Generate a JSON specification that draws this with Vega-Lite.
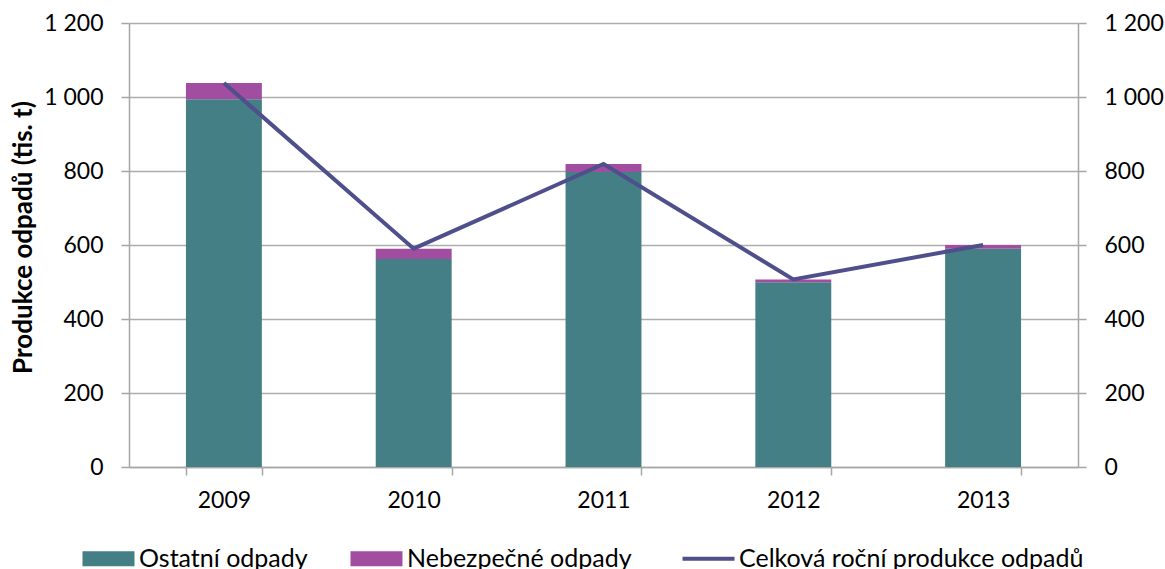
{
  "$schema": "https://vega.github.io/schema/vega-lite/v6.json",
  "width": 949,
  "height": 444,
  "autosize": {"type": "none"},
  "padding": {"left": 129, "top": 23, "right": 87, "bottom": 102},
  "background": "white",
  "config": {
    "view": {"stroke": null},
    "font": "Lato",
    "axis": {"labelFont": "Lato", "labelFontSize": 23, "labelColor": "#000000", "domainColor": "#A6A6A6", "tickColor": "#A6A6A6", "gridColor": "#ADADAD", "domainWidth": 1.5, "tickWidth": 1.5, "gridWidth": 1.5, "tickSize": 8},
    "legend": {"labelFont": "Lato", "labelFontSize": 25, "labelColor": "#000000", "labelLimit": 500}
  },
  "datasets": {
    "slozky": [
      {"rok": "2009", "druh": "Ostatní odpady", "hodnota": 994},
      {"rok": "2009", "druh": "Nebezpečné odpady", "hodnota": 44},
      {"rok": "2010", "druh": "Ostatní odpady", "hodnota": 562},
      {"rok": "2010", "druh": "Nebezpečné odpady", "hodnota": 28},
      {"rok": "2011", "druh": "Ostatní odpady", "hodnota": 797},
      {"rok": "2011", "druh": "Nebezpečné odpady", "hodnota": 22},
      {"rok": "2012", "druh": "Ostatní odpady", "hodnota": 499},
      {"rok": "2012", "druh": "Nebezpečné odpady", "hodnota": 8},
      {"rok": "2013", "druh": "Ostatní odpady", "hodnota": 590},
      {"rok": "2013", "druh": "Nebezpečné odpady", "hodnota": 10}
    ],
    "celkem": [
      {"rok": "2009", "druh": "Celková roční produkce odpadů", "hodnota": 1038},
      {"rok": "2010", "druh": "Celková roční produkce odpadů", "hodnota": 590},
      {"rok": "2011", "druh": "Celková roční produkce odpadů", "hodnota": 819},
      {"rok": "2012", "druh": "Celková roční produkce odpadů", "hodnota": 507},
      {"rok": "2013", "druh": "Celková roční produkce odpadů", "hodnota": 600}
    ]
  },
  "encoding": {
    "x": {
      "field": "rok", "type": "nominal",
      "scale": {"paddingInner": 0.6, "paddingOuter": 0.3},
      "axis": {"title": null, "labelAngle": 0, "tickBand": "extent", "labelPadding": 14, "grid": false}
    }
  },
  "layer": [
    {
      "data": {"name": "slozky"},
      "mark": {"type": "bar"},
      "encoding": {
        "y": {
          "field": "hodnota", "type": "quantitative", "stack": "zero",
          "scale": {"domain": [0, 1200], "nice": false},
          "axis": {
            "values": [0, 200, 400, 600, 800, 1000, 1200],
            "labelExpr": "replace(format(datum.value, ','), ',', ' ')",
            "labelPadding": 18,
            "grid": true,
            "title": "Produkce odpadů (tis. t)",
            "titleFont": "Lato", "titleFontSize": 26, "titleFontWeight": "bold", "titleColor": "#000000",
            "titleX": -106, "titleY": 214, "titleAngle": -90, "titleBaseline": "middle", "titleAlign": "center"
          }
        },
        "color": {
          "field": "druh", "type": "nominal",
          "scale": {
            "domain": ["Ostatní odpady", "Nebezpečné odpady", "Celková roční produkce odpadů"],
            "range": ["#437F84", "#A14DA0", "#4F4F8B"]
          },
          "legend": {
            "title": null,
            "orient": "none",
            "legendX": -33,
            "legendY": 523,
            "direction": "horizontal",
            "columns": 3,
            "columnPadding": 42,
            "symbolSize": 2704,
            "labelOffset": 18,
            "encode": {
              "symbols": {
                "update": {
                  "size": {"value": 2704},
                  "shape": {"signal": "datum.value === 'Celková roční produkce odpadů' ? 'M-1,0H1' : 'M-1,-0.29H1V0.29H-1Z'"},
                  "fill": {"signal": "datum.value === 'Celková roční produkce odpadů' ? 'transparent' : scale('color', datum.value)"},
                  "stroke": {"signal": "scale('color', datum.value)"},
                  "strokeWidth": {"signal": "datum.value === 'Celková roční produkce odpadů' ? 4 : 0"},
                  "opacity": {"value": 1}
                }
              }
            }
          }
        },
        "order": {"field": "druh", "sort": "descending"}
      }
    },
    {
      "data": {"name": "celkem"},
      "mark": {"type": "line", "strokeWidth": 4},
      "encoding": {
        "y": {
          "field": "hodnota", "type": "quantitative",
          "scale": {"domain": [0, 1200], "nice": false},
          "axis": {
            "orient": "right",
            "values": [0, 200, 400, 600, 800, 1000, 1200],
            "labelExpr": "replace(format(datum.value, ','), ',', ' ')",
            "labelPadding": 18,
            "grid": false,
            "title": null
          }
        },
        "color": {"field": "druh", "type": "nominal"}
      }
    }
  ],
  "resolve": {"scale": {"y": "independent"}}
}
